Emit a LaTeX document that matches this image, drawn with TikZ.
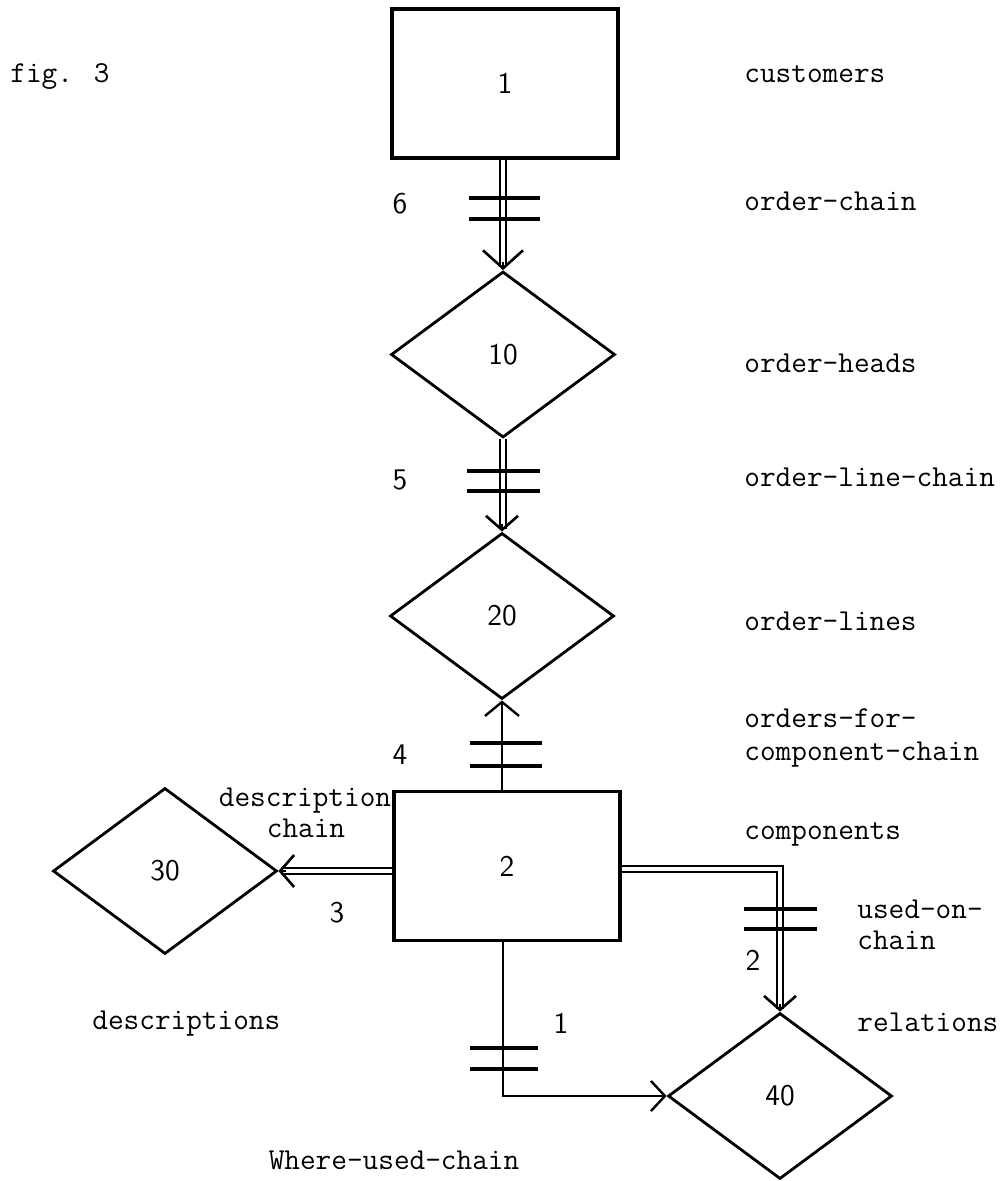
\documentclass[tikz,border=0pt]{standalone}
\usetikzlibrary{shapes.geometric,arrows.meta,calc}
\begin{document}
\begin{tikzpicture}[x=0.5pt,y=-0.5pt,
  box/.style={draw, line width=1.6pt, minimum width=113pt, minimum height=74.5pt, inner sep=0pt, font=\sffamily\fontsize{15}{18}\selectfont},
  dia/.style={draw, diamond, line width=1.4pt, minimum width=112pt, minimum height=83pt, inner sep=0pt, font=\sffamily\fontsize{15}{18}\selectfont},
  dbl/.style={double, line width=1.1pt, double distance=2.2pt, shorten >=1.5pt},
  sgl/.style={line width=1.2pt},
  bar/.style={line width=1.6pt},
  tipbig/.style={line width=1.3pt, -{Straight Barb[length=9pt,width=20pt]}},
  tipsm/.style={line width=1.3pt, -{Straight Barb[length=7pt,width=16pt]}},
  lbl/.style={font=\ttfamily\fontsize{15.2}{18}\selectfont, inner sep=0pt, anchor=base west},
  clbl/.style={font=\ttfamily\fontsize{15.2}{18}\selectfont, inner sep=0pt, anchor=base},
  num/.style={font=\sffamily\fontsize{15}{18}\selectfont, inner sep=0pt}
]
\useasboundingbox (0,0) rectangle (1002,1181);

% entities
\node[box] (b1) at (505,83.5) {1};
\node[dia] (d10) at (503,354.5) {10};
\node[dia] (d20) at (502,616) {20};
\node[box] (b2) at (507,866) {2};
\node[dia] (d30) at (165,871) {30};
\node[dia] (d40) at (780,1096) {40};

% order-chain
\draw[dbl] (b1.south -| d10.north) -- (d10.north);
\draw[tipbig] ([yshift=4pt]d10.north) -- (d10.north);
% order-line-chain
\draw[dbl] (d10.south) -- (d10.south |- d20.north);
\draw[tipsm] ([yshift=4pt]d20.north) -- (d20.north);
% orders-for-component-chain
\draw[sgl, -{Straight Barb[length=7pt,width=17pt]}] (d20.south |- b2.north) -- (d20.south);
% description chain
\draw[dbl] (b2.west |- d30.east) -- (d30.east);
\draw[tipsm] ([xshift=4pt]d30.east) -- (d30.east);
% used-on-chain
\draw[dbl] ([yshift=-1.5pt]b2.east) -| (d40.north);
\draw[tipsm] ([yshift=4pt]d40.north) -- (d40.north);
% where-used-chain
\draw[sgl, -{Straight Barb[length=7pt,width=15pt]}] ([xshift=-2pt]b2.south) |- (d40.west);

% crossbars
\draw[bar] (469,198) -- (540,198) (469,219) -- (540,219);
\draw[bar] (467,471) -- (540,471) (467,491) -- (540,491);
\draw[bar] (470,743) -- (542,743) (470,766) -- (542,766);
\draw[bar] (744,909) -- (817,909) (744,929) -- (817,929);
\draw[bar] (470,1048) -- (538,1048) (470,1069) -- (538,1069);

% cardinality numbers
\node[num] (n6) at (400,204) {6};
\node[num] (n5) at (400,480) {5};
\node[num] (n4) at (400,755) {4};
\node[num] (n3) at (337,913) {3};
\node[num] (n2) at (753,960) {2};
\node[num] (n1) at (561,1023) {1};

% labels
\node[lbl] (fig) at (10,83) {fig. 3};
\node[lbl] (l1) at (744,83) {customers};
\node[lbl] (l2) at (744,211) {order-chain};
\node[lbl] (l3) at (744,373) {order-heads};
\node[lbl] (l4) at (744,486) {order-line-chain};
\node[lbl] (l5) at (744,630) {order-lines};
\node[lbl] (l6a) at (744,727) {orders-for-};
\node[lbl] (l6b) at (744,760) {component-chain};
\node[lbl] (l7) at (744,839) {components};
\node[lbl] (l8a) at (857,918) {used-on-};
\node[lbl] (l8b) at (857,949) {chain};
\node[lbl] (l9) at (857,1031) {relations};
\node[lbl] (l10) at (92,1029) {descriptions};
\node[clbl] (l11a) at (305,806) {description};
\node[clbl] (l11b) at (306,837) {chain};
\node[clbl] (l12) at (394,1169) {Where-used-chain};
\end{tikzpicture}
\end{document}
